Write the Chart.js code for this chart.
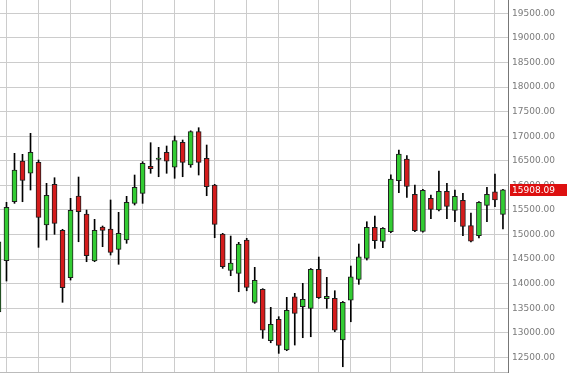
<!DOCTYPE html>
<html>
<head>
<meta charset="utf-8">
<script src="https://cdn.jsdelivr.net/npm/chart.js@4/dist/chart.umd.min.js"></script>
<style>
  html, body { margin: 0; padding: 0; background: #fff; }
  #wrap { width: 567px; height: 378px; }
</style>
</head>
<body>
<div id="wrap"><canvas id="candles"></canvas></div>
<script>
// daily candles, oldest first
var opens  = [13425,14468,15668,16496,16246,16469,15194,16022,15086,14122,15784,15418,14462,15153,15113,14700,
              14889,15635,15839,16388,16530,16673,16368,16876,16414,17092,16551,16008,15011,14273,14212,14889,
              13622,13886,12841,13276,12652,13736,13532,13500,14293,13695,13703,12855,13668,14090,14517,15147,
              14862,15058,16095,16536,15818,15066,15737,15499,15879,15493,15696,15184,14976,15595,15871,15412];
var highs  = [14900,15656,16652,16632,17059,16516,16042,16156,15107,15737,16170,15499,15310,15174,15703,15452,
              15778,16211,16482,16868,16774,16801,17004,16923,17110,17173,16821,16022,15025,14970,14842,14923,
              14334,13900,13520,13330,13723,13805,14008,14310,14543,14130,13858,13640,14360,14808,15261,15377,
              15140,16217,16720,16604,16008,15920,15804,16292,16042,15906,15839,15438,15670,15961,16231,15920];
var lows   = [13380,14055,15635,15668,15906,14740,14889,15005,13622,14075,14854,14448,14448,14753,14584,14395,
              14822,15601,15635,16246,16176,16246,16144,16176,16368,16211,15790,14936,14313,14163,13837,13857,
              13602,12889,12800,12584,12638,12753,12902,12922,13700,13500,13024,12312,13227,13988,14482,14720,
              14732,15040,15851,15757,15060,15050,15322,15480,15322,15261,14976,14850,14930,15261,15566,15113];
var closes = [14850,15554,16313,16103,16673,15351,15798,15229,13919,15493,15465,14570,15086,15086,14639,15025,
              15656,15961,16449,16339,16555,16490,16909,16469,17092,16469,15973,15208,14346,14421,14808,13927,
              14069,13058,13174,12747,13459,13398,13683,14293,13715,13744,13058,13622,14142,14549,15147,14875,
              15127,16130,16638,15981,15078,15900,15513,15879,15574,15778,15168,14864,15656,15818,15703,15908.09];

// weekly vertical grid lines, by candle index
var gridDays = [1,5,9,14,18,22,27,31,35,40,44,49,53,57,62];
var yTicks = [12500,13000,13500,14000,14500,15000,15500,16000,16500,17000,17500,18000,18500,19000,19500];

var upColor = "#33cc33";
var downColor = "#d41c1c";

var bodyData = [], wickData = [], bodyColors = [];
for (var i = 0; i < opens.length; i++) {
  bodyData.push({ x: i, y: [Math.min(opens[i], closes[i]), Math.max(opens[i], closes[i])] });
  wickData.push({ x: i, y: [lows[i], highs[i]] });
  bodyColors.push(closes[i] >= opens[i] ? upColor : downColor);
}

var lastPrice = closes[closes.length - 1];

function noPad(scale) {
  scale.paddingTop = 0;
  scale.paddingBottom = 0;
  scale.paddingLeft = 0;
  scale.paddingRight = 0;
}

var priceTag = {
  id: "priceTag",
  afterDraw: function(chart) {
    var ctx = chart.ctx;
    var y = Math.round(chart.scales.y.getPixelForValue(lastPrice));
    var left = chart.chartArea.right + 2;
    ctx.save();
    ctx.fillStyle = "#dd1010";
    ctx.fillRect(left, y - 6, chart.width - left, 12);
    ctx.fillStyle = "#ffffff";
    ctx.font = "9px 'DejaVu Sans'";
    ctx.textBaseline = "middle";
    ctx.fillText(lastPrice.toFixed(2), left + 2, y + 0.5);
    ctx.restore();
  }
};

var chart = new Chart(document.getElementById("candles"), {
  type: "bar",
  data: {
    datasets: [
      {
        label: "body",
        data: bodyData,
        backgroundColor: bodyColors,
        borderColor: "#1e1e1e",
        borderWidth: 1,
        borderSkipped: false,
        barThickness: 5,
        grouped: false,
        order: 0
      },
      {
        label: "wick",
        data: wickData,
        backgroundColor: "#000000",
        borderWidth: 0,
        barThickness: 1,
        grouped: false,
        order: 1
      }
    ]
  },
  options: {
    responsive: true,
    maintainAspectRatio: false,
    animation: false,
    layout: { padding: { left: 0, right: 0, top: 0, bottom: 6 } },
    plugins: {
      legend: { display: false },
      tooltip: { enabled: false }
    },
    scales: {
      x: {
        type: "linear",
        offset: false,
        min: 0.19,
        max: 63.63,
        afterBuildTicks: function(scale) {
          scale.ticks = gridDays.map(function(d) { return { value: d }; });
        },
        afterFit: noPad,
        grid: { color: "#cccccc", drawTicks: false, offset: false },
        border: { display: true, color: "#bbbbbb" },
        ticks: { display: false }
      },
      y: {
        position: "right",
        min: 12205,
        max: 19770,
        afterBuildTicks: function(scale) {
          scale.ticks = yTicks.map(function(v) { return { value: v }; });
        },
        afterFit: function(scale) { scale.width = 59; noPad(scale); },
        grid: { color: "#cccccc", drawTicks: false },
        border: { display: true, color: "#777777" },
        ticks: {
          padding: 4,
          color: "#7a7a7a",
          font: { family: "'DejaVu Sans'", size: 9 },
          callback: function(v) { return v.toFixed(2); }
        }
      }
    }
  },
  plugins: [priceTag]
});
</script>
</body>
</html>
